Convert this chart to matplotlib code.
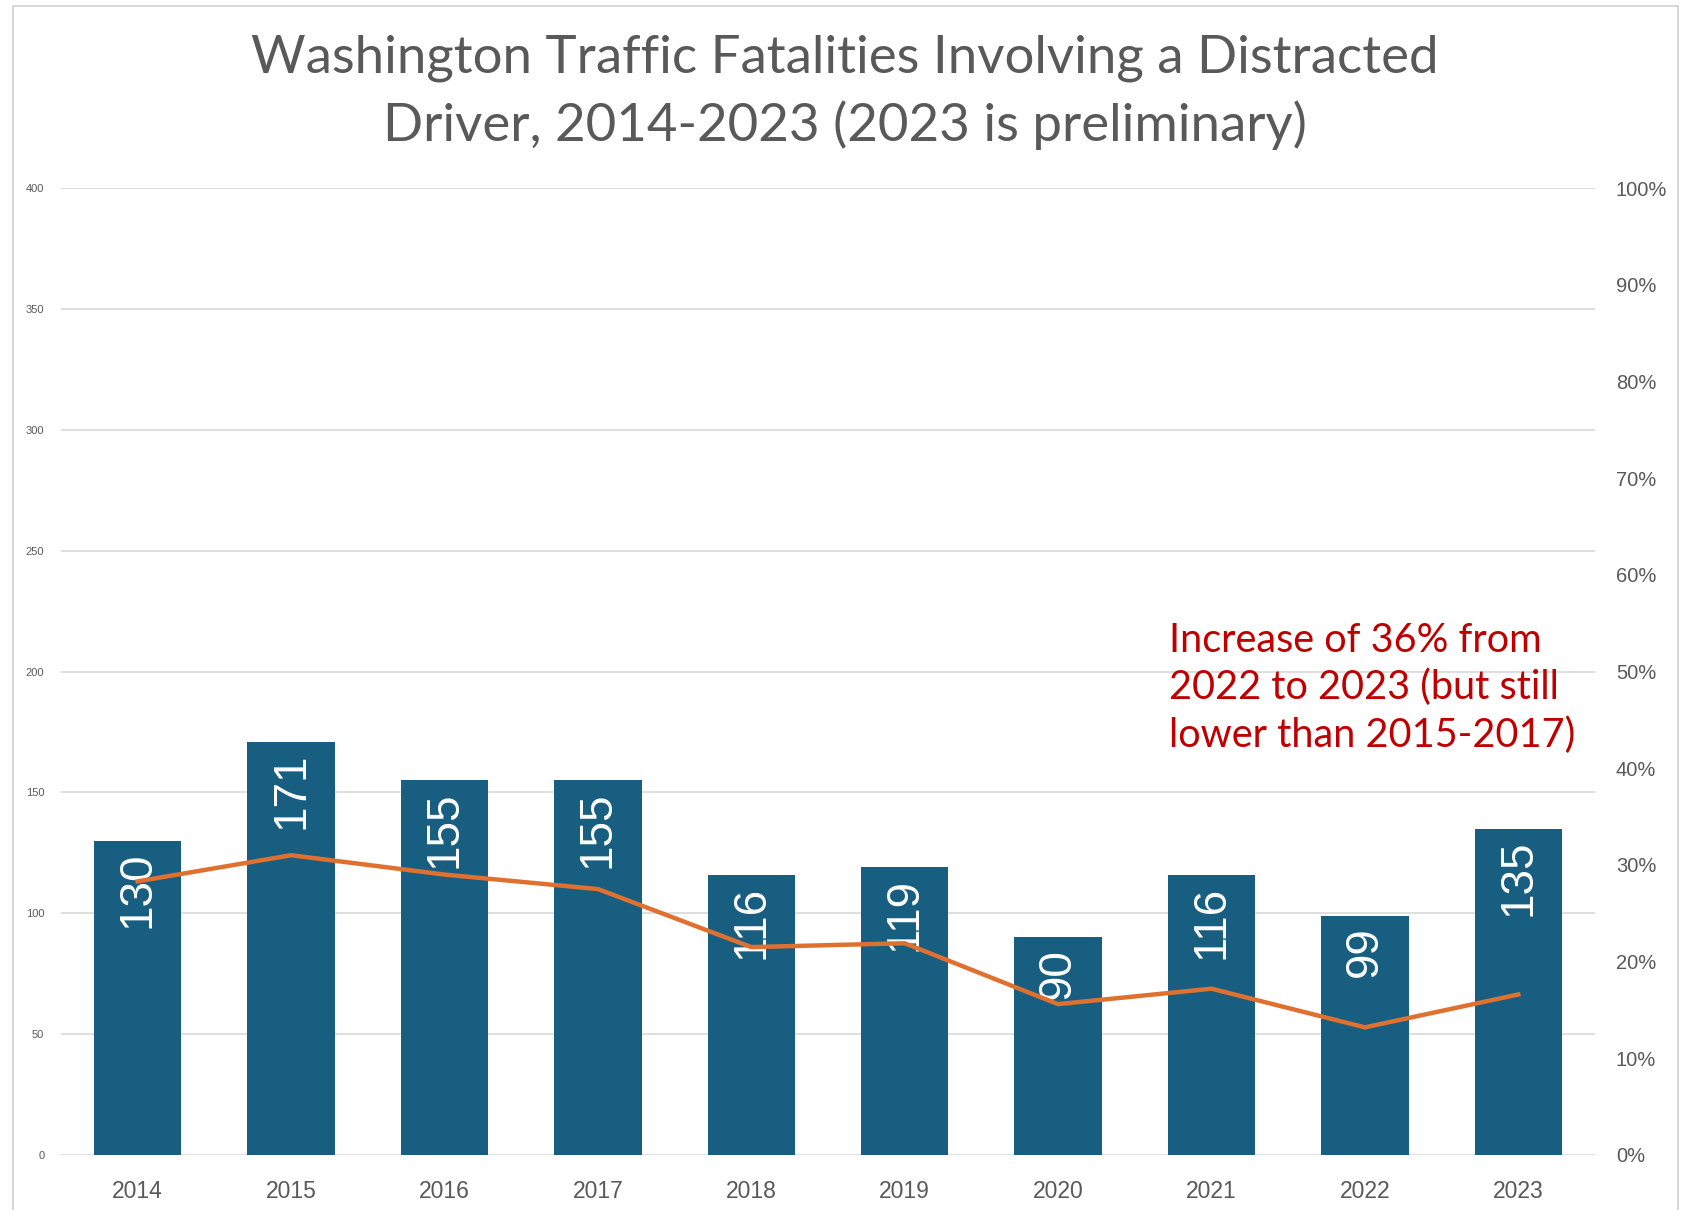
import matplotlib.pyplot as plt
import matplotlib.patches as mpatches
import numpy as np

# Datos
years = ['2014', '2015', '2016', '2017', '2018', '2019', '2020', '2021', '2022', '2023']
fatalities = [130, 171, 155, 155, 116, 119, 90, 116, 99, 135]
pct_share = [28.3, 31.0, 29.0, 27.5, 21.5, 21.9, 15.6, 17.2, 13.2, 16.6]
left_ticks = [0, 50, 100, 150, 200, 250, 300, 350, 400]
right_ticks = [0, 10, 20, 30, 40, 50, 60, 70, 80, 90, 100]

title_text = 'Washington Traffic Fatalities Involving a Distracted\nDriver, 2014-2023 (2023 is preliminary)'
note_text = 'Increase of 36% from\n2022 to 2023 (but still\nlower than 2015-2017)'

bar_color = '#185E80'
line_color = '#E0702F'
grid_color = '#D9D9D9'
text_gray = '#595959'

fig = plt.figure(figsize=(16.86, 12.10), dpi=100)

# Borde gris del marco
fig.patches.append(mpatches.Rectangle((13 / 1686, -0.01), 1665 / 1686, 1.01 - 6 / 1210,
                                      transform=fig.transFigure, fill=False,
                                      edgecolor='#D0D0D0', linewidth=1.2))

ax = fig.add_axes([61 / 1686, 1 - 1155 / 1210, (1595 - 61) / 1686, (1155 - 188) / 1210])
x = np.arange(len(years))
ax.bar(x, fatalities, width=0.57, color=bar_color, zorder=2)
ax.set_xlim(-0.5, len(years) - 0.5)
ax.set_ylim(0, 400)
ax.set_yticks(left_ticks)
ax.set_xticks(x)
ax.set_xticklabels(years)
ax.grid(axis='y', color=grid_color, linewidth=1.2, zorder=0)
ax.set_axisbelow(True)
for s in ax.spines.values():
    s.set_visible(False)
ax.tick_params(axis='y', length=0, pad=12, labelsize=8, labelcolor=text_gray)
ax.tick_params(axis='x', length=0, pad=18, labelsize=16.5, labelcolor=text_gray)
for lbl in ax.get_xticklabels() + ax.get_yticklabels():
    lbl.set_family('Liberation Sans')

# Etiquetas dentro de las barras
for xi, v in zip(x, fatalities):
    ax.text(xi, v - 4.5, str(v), rotation=90, ha='center', va='top',
            color='white', fontsize=33, family='Liberation Sans', zorder=4)

# Eje secundario con porcentajes
ax2 = ax.twinx()
ax2.plot(x, pct_share, color=line_color, linewidth=3.2, zorder=3)
ax2.set_ylim(0, 100)
ax2.set_yticks(right_ticks)
ax2.set_yticklabels([f'{t}%' for t in right_ticks])
for s in ax2.spines.values():
    s.set_visible(False)
ax2.tick_params(axis='y', length=0, pad=15, labelsize=14.5, labelcolor=text_gray)
for lbl in ax2.get_yticklabels():
    lbl.set_family('Liberation Sans')

fig.text(845 / 1686, 1 - 92 / 1210, title_text, ha='center', va='center',
         fontsize=38, color=text_gray, family='Lato', linespacing=1.45)

fig.text(1169 / 1686, 1 - 688 / 1210, note_text, ha='left', va='center',
         fontsize=28.5, color='#C00000', family='Lato', linespacing=1.33)

fig.savefig('out.png', dpi=100)
